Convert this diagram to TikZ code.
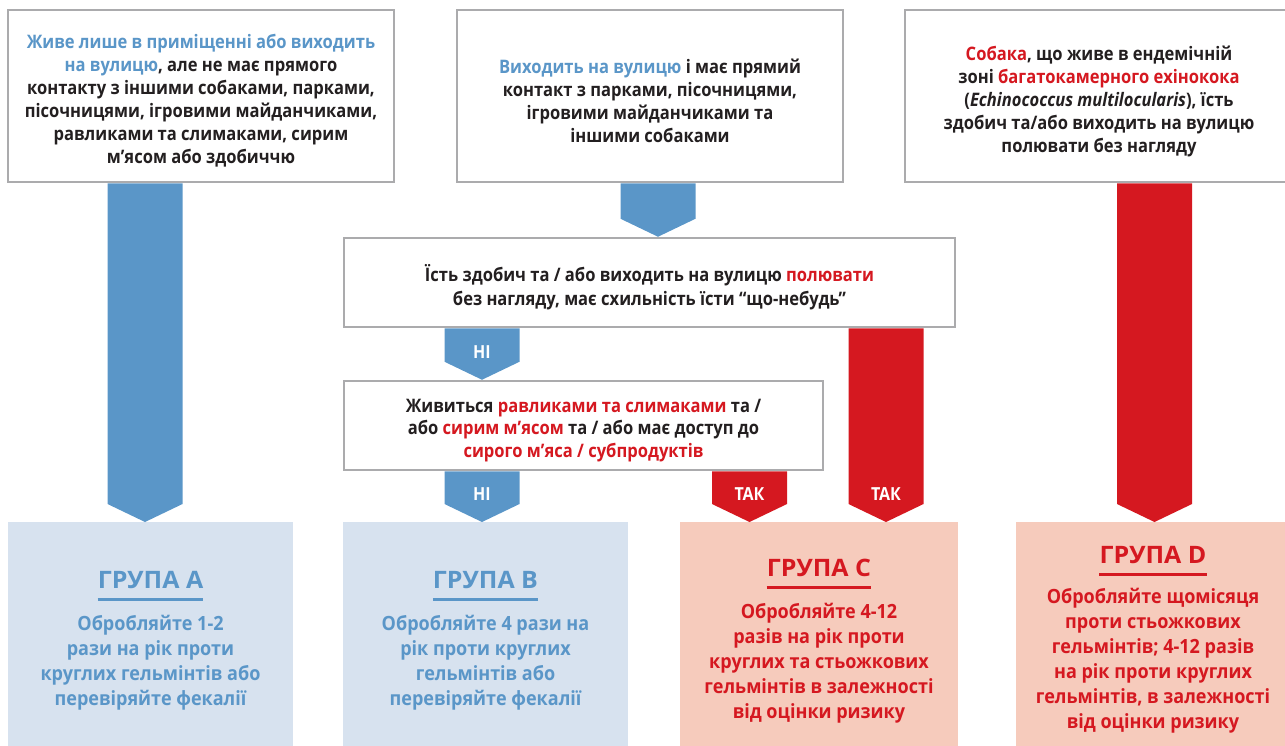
\documentclass[tikz,border=0pt]{standalone}
\usepackage{fontspec}
\setmainfont[FakeStretch=0.89]{Open Sans}
\newfontfamily\grpfont[FakeStretch=0.92]{Open Sans}
\newfontfamily\headfont[FakeStretch=1.04]{Open Sans}
\usepackage{tikz}
\usetikzlibrary{calc,positioning}

\definecolor{flowblue}{HTML}{5A96C8}
\definecolor{flowred}{HTML}{D51820}
\definecolor{paleblue}{HTML}{D7E2EF}
\definecolor{palered}{HTML}{F6CBBC}
\definecolor{boxgray}{HTML}{ABABAD}
\definecolor{inkgray}{HTML}{231F20}

\newcommand{\hb}[1]{\textcolor{flowblue}{#1}}
\newcommand{\hr}[1]{\textcolor{flowred}{#1}}

% block arrow: from node, to node, centre x, colour
\newcommand{\blockarrow}[4]{%
  \fill[#4] (#3-37.5,0 |- #1.south) -- (#3+37.5,0 |- #1.south)
    -- ($(#3+37.5,0 |- #2.north)+(0,-18)$) -- (#3,0 |- #2.north)
    -- ($(#3-37.5,0 |- #2.north)+(0,-18)$) -- cycle;}

\tikzset{
  qbox/.style={draw=boxgray, line width=2.5pt, fill=white},
  qtext/.style={text=inkgray, align=center, inner sep=0pt,
    font=\fontsize{18.6}{23}\selectfont\bfseries},
  grpbox/.style={draw=none, inner sep=0pt, minimum height=240pt, anchor=north},
  grphead/.style={anchor=base, inner sep=0pt, font=\headfont\fontsize{24}{28}\selectfont\bfseries},
  grptext/.style={anchor=north, inner sep=0pt, align=center,
    font=\grpfont\fontsize{19.6}{25}\selectfont\bfseries},
  arrowlabel/.style={text=white, font=\fontsize{18}{20}\selectfont\bfseries},
}

\begin{document}
\begin{tikzpicture}[x=1pt, y=-1pt]
    \useasboundingbox (0,0) rectangle (1285,745);
    % Boxes with the questions:
    \node[qbox, minimum width=386pt, minimum height=172pt](B1) at (201,96){}
      node[qtext] at ([yshift=-5pt]B1.center){\hb{Живе лише в приміщенні або виходить}\\\hb{на вулицю}, але не має прямого\\контакту з іншими собаками, парками,\\пісочницями, ігровими майданчиками,\\равликами та слимаками, сирим\\м’ясом або здобиччю};
    \node[qbox, minimum width=386pt, minimum height=172pt](B2) at (650,96){}
      node[qtext] at ([yshift=-5pt]B2.center){\hb{Виходить на вулицю} і має прямий\\контакт з парками, пісочницями,\\ігровими майданчиками та\\іншими собаками};
    \node[qbox, minimum width=388pt, minimum height=172pt](B3) at (1099,96){}
      node[qtext] at ([yshift=-5pt]B3.center){\hr{Собака}, що живе в ендемічній\\зоні \hr{багатокамерного ехінокока}\\(\textit{Echinococcus multilocularis}), їсть\\здобич та/або виходить на вулицю\\полювати без нагляду};
    \node[qbox, minimum width=611pt, minimum height=89pt](Q1) at (649.5,282.5){}
      node[qtext, font=\fontsize{18.6}{24}\selectfont\bfseries] at ([yshift=-5pt]Q1.center){Їсть здобич та / або виходить на вулицю \hr{полювати}\\без нагляду, має схильність їсти “що-небудь”};
    \node[qbox, minimum width=479pt, minimum height=89pt](Q2) at (583.5,425.5){}
      node[qtext, font=\fontsize{18.6}{22.5}\selectfont\bfseries] at ([yshift=-5pt]Q2.center){Живиться \hr{равликами та слимаками} та /\\або \hr{сирим м’ясом} та / або має доступ до\\\hr{сирого м’яса / субпродуктів}};

    % Groups:
    \node[grpbox, fill=paleblue, minimum width=285pt](GA) at (150.5,522){};
    \node[grpbox, fill=paleblue, minimum width=285pt](GB) at (485.5,522){};
    \node[grpbox, fill=palered, minimum width=278pt](GC) at (819,522){};
    \node[grpbox, fill=palered, minimum width=274pt](GD) at (1153,522){};

    \node[grphead, text=flowblue](hA) at (150.5,588.5){ГРУПА А};
    \node[grphead, text=flowblue](hB) at (485.5,588.5){ГРУПА В};
    \node[grphead, text=flowred](hC) at (819,576.5){ГРУПА С};
    \node[grphead, text=flowred](hD) at (1153,563.5){ГРУПА D};
    \draw[flowblue, line width=3pt] ($(hA.base west)+(0,10.5)$) -- ($(hA.base east)+(0,10.5)$);
    \draw[flowblue, line width=3pt] ($(hB.base west)+(0,10.5)$) -- ($(hB.base east)+(0,10.5)$);
    \draw[flowred, line width=3pt] ($(hC.base west)+(0,10.5)$) -- ($(hC.base east)+(0,10.5)$);
    \draw[flowred, line width=3pt] ($(hD.base west)+(0,10.5)$) -- ($(hD.base east)+(0,10.5)$);

    \node[grptext, text=flowblue](tA) at (150.5,614.5){Обробляйте 1-2\\рази на рік проти\\круглих гельмінтів або\\перевіряйте фекалії};
    \node[grptext, text=flowblue](tB) at (485.5,614.5){Обробляйте 4 рази на\\рік проти круглих\\гельмінтів або\\перевіряйте фекалії};
    \node[grptext, text=flowred](tC) at (819,602.5){Обробляйте 4-12\\разів на рік проти\\круглих та стьожкових\\гельмінтів в залежності\\від оцінки ризику};
    \node[grptext, text=flowred](tD) at (1153,587.5){Обробляйте щомісяця\\проти стьожкових\\гельмінтів; 4-12 разів\\на рік проти круглих\\гельмінтів, в залежності\\від оцінки ризику};

    % Arrows:
    \blockarrow{B1}{GA}{145}{flowblue}
    \blockarrow{B2}{Q1}{658}{flowblue}
    \blockarrow{Q1}{Q2}{482}{flowblue}
    \blockarrow{Q2}{GB}{482}{flowblue}
    \blockarrow{Q2}{GC}{749.5}{flowred}
    \blockarrow{Q1}{GC}{886}{flowred}
    \blockarrow{B3}{GD}{1154.5}{flowred}

    \node[arrowlabel](n1) at (482,352){НІ};
    \node[arrowlabel](n2) at (482,494){НІ};
    \node[arrowlabel](y1) at (749.5,494){ТАК};
    \node[arrowlabel](y2) at (886,494){ТАК};
\end{tikzpicture}
\end{document}
